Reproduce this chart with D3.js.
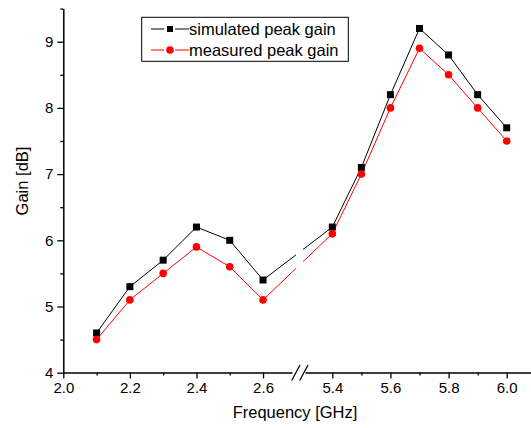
<!DOCTYPE html>
<html>
<head>
<meta charset="utf-8">
<script src="https://cdn.jsdelivr.net/npm/d3@7"></script>
<style>
  html, body { margin: 0; padding: 0; background: #fff; }
  svg { display: block; font-family: "Liberation Sans", Arial, sans-serif; }
</style>
</head>
<body>
<svg id="chart" width="531" height="428"></svg>
<script>
// Frequencies (GHz) for the lower band and the upper band
const lowBand = [2.1, 2.2, 2.3, 2.4, 2.5, 2.6];
const highBand = [5.4, 5.5, 5.6, 5.7, 5.8, 5.9, 6.0];
const frequencies = lowBand.concat(highBand);

// Peak gain (dB)
const simulatedGain = [4.6, 5.3, 5.7, 6.2, 6.0, 5.4, 6.2, 7.1, 8.2, 9.2, 8.8, 8.2, 7.7];
const measuredGain  = [4.5, 5.1, 5.5, 5.9, 5.6, 5.1, 6.1, 7.0, 8.0, 8.9, 8.5, 8.0, 7.5];

// Tick values
const lowTicks = [2.0, 2.2, 2.4, 2.6];
const lowMinorTicks = [2.1, 2.3, 2.5];
const highTicks = [5.4, 5.6, 5.8, 6.0];
const highMinorTicks = [5.5, 5.7, 5.9];
const gainTicks = [4, 5, 6, 7, 8, 9];
const gainMinorTicks = [4.5, 5.5, 6.5, 7.5, 8.5, 9.5];

const seriesNames = ["simulated peak gain", "measured peak gain"];
const seriesColors = ["#000000", "#ff0000"];

const svg = d3.select("#chart");

// Broken x axis: two linear segments
const xLow = d3.scaleLinear().domain([2.0, 2.687]).range([63.3, 292]);
const xHigh = d3.scaleLinear().domain([5.306, 6.0836]).range([305, 531]);
const x = f => (f < 4 ? xLow(f) : xHigh(f));
const y = d3.scaleLinear().domain([4, 9.5]).range([372.7, 8.6]);

const axisY = 372.5;
const fmt = d3.format(".1f");

// Clip that leaves a gap where the axis is broken
const clip = svg.append("defs").append("clipPath").attr("id", "breakGap");
clip.append("rect").attr("x", 0).attr("y", 0).attr("width", 296).attr("height", 428);
clip.append("rect").attr("x", 303).attr("y", 0).attr("width", 228).attr("height", 428);

function styleAxis(g, labelSize) {
  g.selectAll("path.domain").attr("stroke", "#000").attr("stroke-width", 1.5);
  g.selectAll(".tick line").attr("stroke", "#000").attr("stroke-width", 1.3);
  g.selectAll(".tick text")
    .attr("fill", "#000")
    .style("font-size", labelSize + "px")
    .style("font-family", "'Liberation Sans', Arial, sans-serif");
}

// X axis, lower band
const gLow = svg.append("g").attr("transform", `translate(0,${axisY})`)
  .call(d3.axisBottom(xLow).tickValues(lowTicks).tickFormat(fmt).tickSize(6).tickSizeOuter(0).tickPadding(4));
styleAxis(gLow, 15);
const gLowMinor = svg.append("g").attr("transform", `translate(0,${axisY})`)
  .call(d3.axisBottom(xLow).tickValues(lowMinorTicks).tickFormat("").tickSize(3).tickSizeOuter(0));
styleAxis(gLowMinor, 15);
gLowMinor.select("path.domain").remove();

// X axis, upper band
const gHigh = svg.append("g").attr("transform", `translate(0,${axisY})`)
  .call(d3.axisBottom(xHigh).tickValues(highTicks).tickFormat(fmt).tickSize(6).tickSizeOuter(0).tickPadding(4));
styleAxis(gHigh, 15);
const gHighMinor = svg.append("g").attr("transform", `translate(0,${axisY})`)
  .call(d3.axisBottom(xHigh).tickValues(highMinorTicks).tickFormat("").tickSize(3).tickSizeOuter(0));
styleAxis(gHighMinor, 15);
gHighMinor.select("path.domain").remove();

// Break marks
[[291.7, 300], [299.7, 308]].forEach(([x0, x1]) => {
  svg.append("line")
    .attr("x1", x0).attr("y1", axisY + 8)
    .attr("x2", x1).attr("y2", axisY - 7.5)
    .attr("stroke", "#000").attr("stroke-width", 1.3);
});

// Y axis
const gY = svg.append("g").attr("transform", "translate(63.3,0)")
  .call(d3.axisLeft(y).tickValues(gainTicks).tickFormat(d3.format("d")).tickSize(6).tickSizeOuter(0).tickPadding(4));
styleAxis(gY, 15);
const gYMinor = svg.append("g").attr("transform", "translate(63.3,0)")
  .call(d3.axisLeft(y).tickValues(gainMinorTicks).tickFormat("").tickSize(3).tickSizeOuter(0));
styleAxis(gYMinor, 15);
gYMinor.select("path.domain").remove();

// Axis titles
svg.append("text")
  .attr("x", 295).attr("y", 418)
  .attr("text-anchor", "middle")
  .style("font-size", "16.5px")
  .text("Frequency [GHz]");
svg.append("text")
  .attr("transform", "translate(28,181) rotate(-90)")
  .attr("text-anchor", "middle")
  .style("font-size", "16.5px")
  .text("Gain [dB]");

// Series
const line = d3.line().x(d => x(d[0])).y(d => y(d[1]));
const series = [simulatedGain, measuredGain].map(vals => frequencies.map((f, i) => [f, vals[i]]));

series.forEach((pts, si) => {
  svg.append("path")
    .datum(pts)
    .attr("clip-path", "url(#breakGap)")
    .attr("fill", "none")
    .attr("stroke", seriesColors[si])
    .attr("stroke-width", 1)
    .attr("d", line);
});

// Markers: squares for simulated, circles for measured
svg.append("g").selectAll("rect")
  .data(series[0]).join("rect")
  .attr("x", d => x(d[0]) - 3.5).attr("y", d => y(d[1]) - 3.5)
  .attr("width", 7).attr("height", 7)
  .attr("fill", seriesColors[0]);
svg.append("g").selectAll("circle")
  .data(series[1]).join("circle")
  .attr("cx", d => x(d[0])).attr("cy", d => y(d[1]))
  .attr("r", 3.8)
  .attr("fill", seriesColors[1]);

// Legend
const legend = svg.append("g");
legend.append("rect")
  .attr("x", 141.7).attr("y", 17.3).attr("width", 206.6).attr("height", 44)
  .attr("fill", "#fff").attr("stroke", "#000").attr("stroke-width", 1);
const rowY = [29, 50];
seriesNames.forEach((name, i) => {
  const cy = rowY[i];
  legend.append("line").attr("x1", 151).attr("x2", 164).attr("y1", cy).attr("y2", cy)
    .attr("stroke", seriesColors[i]).attr("stroke-width", 1);
  legend.append("line").attr("x1", 175).attr("x2", 189).attr("y1", cy).attr("y2", cy)
    .attr("stroke", seriesColors[i]).attr("stroke-width", 1);
  if (i === 0) {
    legend.append("rect").attr("x", 167).attr("y", cy - 3).attr("width", 6).attr("height", 6)
      .attr("fill", seriesColors[i]);
  } else {
    legend.append("circle").attr("cx", 170).attr("cy", cy).attr("r", 3.8)
      .attr("fill", seriesColors[i]);
  }
  legend.append("text")
    .attr("x", 189).attr("y", cy + 5.8)
    .style("font-size", "16.5px")
    .text(name);
});
</script>
</body>
</html>
